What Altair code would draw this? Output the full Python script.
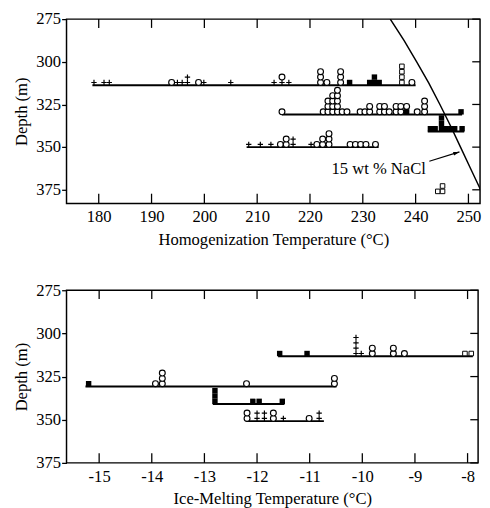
import altair as alt
import pandas as pd

FONT = "Liberation Serif"

# ---------------- data: top panel (homogenization temperature) ----------------
top_x_ticks = [180, 190, 200, 210, 220, 230, 240, 250]
depth_ticks = [275, 300, 325, 350, 375]

# baselines of the depth groups
top_line_depth = [313.7, 330.9, 340.8, 350.0]
top_line_start = [178.8, 214.7, 242.3, 208.0]
top_line_end = [240.0, 248.8, 249.2, 233.0]

# symbol columns (stack bottom->top): o circle, + plus, s filled square, q open square
top_A_depth = 313.7
top_A_temp = [179.1, 181.0, 182.0, 193.8, 194.9, 195.8, 196.8, 198.9, 199.9, 205.0,
              213.2, 214.7, 216.0, 222.0, 223.2, 225.8, 227.5, 231.3, 232.2, 233.1,
              237.4, 239.3]
top_A_stack = ["+", "+", "+", "o", "+", "+", "++", "o", "+", "+",
               "+", "+o", "+", "ooo", "o", "ooo", "s", "s", "ss", "s",
               "qqqq", "o"]

top_B_depth = 330.9
top_B_temp = [214.7, 222.5, 223.4, 224.3, 225.2, 226.1, 227.0, 229.5, 230.4, 231.3,
              233.2, 234.1, 235.0, 236.3, 237.2, 238.3, 240.3, 241.7, 248.6]
top_B_stack = ["o", "o", "ooo", "oooo", "ooooo", "o", "o", "o", "o", "oo",
               "oo", "oo", "o", "oo", "oo", "so", "o", "ooo", "s"]

top_C_depth = 340.8
top_C_temp = [242.8, 243.7, 244.9, 245.8, 246.7, 247.4, 248.8]
top_C_stack = ["s", "s", "sss", "s", "s", "s", "s"]

top_D_depth = 350.0
top_D_temp = [208.4, 210.6, 212.6, 214.4, 215.5, 216.8, 220.2, 221.3, 222.4, 223.6,
              227.6, 228.6, 229.6, 230.6, 232.4]
top_D_stack = ["+", "+", "+", "o", "oo", "++", "+", "o", "oo", "ooo",
               "o", "o", "o", "o", "o"]

top_E_depth = 377.5
top_E_temp = [244.2, 245.1]
top_E_stack = ["q", "qq"]

# 15 wt % NaCl boiling curve
nacl_temp = [235.2, 237.8, 240.2, 242.5, 244.6, 246.6, 248.5, 250.4, 252.3, 254.1]
nacl_depth = [275, 287.5, 300, 312.5, 325, 337.5, 350, 362.5, 375, 387.5]
nacl_label = "15 wt % NaCl"
nacl_label_temp = 233.0
nacl_label_depth = 363.0
arrow_from = (242.6, 358.3)
arrow_to = (248.3, 352.8)

# ---------------- data: bottom panel (ice-melting temperature) ----------------
bot_x_ticks = [-15, -14, -13, -12, -11, -10, -9, -8]

bot_line_depth = [313.2, 330.7, 340.9, 350.8]
bot_line_start = [-11.6, -15.26, -12.84, -12.2]
bot_line_end = [-7.9, -10.49, -11.48, -10.73]

bot_P_depth = 313.2
bot_P_temp = [-11.57, -11.05, -10.12, -10.02, -9.81, -9.41, -9.2, -8.05, -7.93]
bot_P_stack = ["s", "s", "++++", "+", "oo", "oo", "o", "q", "q"]

bot_Q_depth = 330.7
bot_Q_temp = [-15.2, -13.93, -13.8, -12.2, -10.53]
bot_Q_stack = ["s", "o", "ooo", "o", "oo"]

bot_R_depth = 340.9
bot_R_temp = [-12.8, -12.08, -11.96, -11.52]
bot_R_stack = ["sss", "s", "s", "s"]

bot_S_depth = 350.8
bot_S_temp = [-12.19, -12.0, -11.86, -11.69, -11.5, -11.01, -10.82]
bot_S_stack = ["oo", "++", "++", "oo", "+", "o", "++"]


def build_symbols(groups):
    recs = []
    for depth, temps, stacks in groups:
        for t, st in zip(temps, stacks):
            for lvl, ch in enumerate(st):
                recs.append({"t": t, "base": depth, "level": lvl, "sym": ch})
    return pd.DataFrame(recs)


def panel(sym_df, line_df, xdom, ydom, xticks, W, H, xtitle, step, extra_fn=None):
    xs = alt.Scale(domain=xdom, nice=False, zero=False)
    ys = alt.Scale(domain=ydom, nice=False, zero=False, reverse=True)
    xaxis = alt.Axis(values=xticks, ticks=False, labelPadding=6, title=xtitle,
                     titlePadding=7, labelExpr="'' + datum.value")
    yaxis = alt.Axis(values=depth_ticks, tickSize=5, tickWidth=1.3, tickColor="black",
                     labelPadding=1, title="Depth (m)", titlePadding=6)

    def X(f):
        return alt.X(f, type="quantitative", scale=xs, axis=xaxis, title=xtitle)

    def Y(f):
        return alt.Y(f, type="quantitative", scale=ys, axis=yaxis, title="Depth (m)")

    xt = pd.DataFrame({"v": xticks})
    yt = pd.DataFrame({"v": depth_ticks})

    bottom_ticks = alt.Chart(xt).mark_rule(color="black", strokeWidth=1.3).encode(
        x=X("v"), y=alt.value(H), y2=alt.value(H - 10))
    top_ticks = alt.Chart(xt).mark_rule(color="black", strokeWidth=1.3).encode(
        x=X("v"), y=alt.value(0), y2=alt.value(9))
    right_ticks = alt.Chart(yt).mark_rule(color="black", strokeWidth=1.3).encode(
        y=Y("v"), x=alt.value(W), x2=alt.value(W - 8))

    lines = alt.Chart(line_df).mark_rule(color="black", strokeWidth=2).encode(
        x=X("x0"), x2="x1", y=Y("d"))

    base = alt.Chart(sym_df).transform_calculate(
        d=f"datum.base - (datum.level + 0.5) * {step}")
    circles = base.transform_filter("datum.sym == 'o'").mark_point(
        shape="circle", size=36, filled=True, fill="white", stroke="black",
        strokeWidth=1.15, opacity=1).encode(x=X("t"), y=Y("d"))
    pluses = base.transform_filter("datum.sym == '+'").mark_point(
        shape="M-1,0H1M0,-1V1", size=30, filled=False, stroke="black",
        strokeWidth=1.2, opacity=1).encode(x=X("t"), y=Y("d"))
    fsq = base.transform_filter("datum.sym == 's'").mark_point(
        shape="square", size=31, filled=True, color="black", opacity=1).encode(
        x=X("t"), y=Y("d"))
    osq = base.transform_filter("datum.sym == 'q'").mark_point(
        shape="square", size=22, filled=True, fill="white", stroke="black",
        strokeWidth=1.0, opacity=1).encode(x=X("t"), y=Y("d"))

    layers = [bottom_ticks, top_ticks, right_ticks, lines]
    if extra_fn is not None:
        layers += extra_fn(X, Y)
    layers += [circles, pluses, fsq, osq]
    return alt.layer(*layers).properties(width=W, height=H)


def nacl_layers(X, Y):
    curve_df = pd.DataFrame({"t": nacl_temp, "d": nacl_depth})
    curve = alt.Chart(curve_df).mark_line(color="black", strokeWidth=1.5, clip=True).encode(
        x=X("t"), y=Y("d"), order="d")
    lab = alt.Chart(pd.DataFrame({"t": [nacl_label_temp], "d": [nacl_label_depth],
                                  "s": [nacl_label]})).mark_text(
        font=FONT, fontSize=17, color="black", baseline="middle", align="center").encode(
        x=X("t"), y=Y("d"), text="s")
    arr = pd.DataFrame({"t0": [arrow_from[0]], "d0": [arrow_from[1]],
                        "t1": [arrow_to[0]], "d1": [arrow_to[1]]})
    shaft = alt.Chart(arr).mark_rule(color="black", strokeWidth=1.2).encode(
        x=X("t0"), y=Y("d0"), x2="t1", y2="d1")
    head = alt.Chart(arr).mark_point(shape="M0,0L0.6,2L-0.6,2Z", size=40, filled=True,
                                     color="black", opacity=1, angle=73).encode(
        x=X("t1"), y=Y("d1"))
    return [curve, shaft, head, lab]


top_sym = build_symbols([
    (top_A_depth, top_A_temp, top_A_stack),
    (top_B_depth, top_B_temp, top_B_stack),
    (top_C_depth, top_C_temp, top_C_stack),
    (top_D_depth, top_D_temp, top_D_stack),
    (top_E_depth, top_E_temp, top_E_stack),
])
top_lines = pd.DataFrame({"d": top_line_depth, "x0": top_line_start, "x1": top_line_end})

bot_sym = build_symbols([
    (bot_P_depth, bot_P_temp, bot_P_stack),
    (bot_Q_depth, bot_Q_temp, bot_Q_stack),
    (bot_R_depth, bot_R_temp, bot_R_stack),
    (bot_S_depth, bot_S_temp, bot_S_stack),
])
bot_lines = pd.DataFrame({"d": bot_line_depth, "x0": bot_line_start, "x1": bot_line_end})

top = panel(top_sym, top_lines, [173.9, 252.2], [275, 383], top_x_ticks, 424, 189,
            "Homogenization Temperature (°C)", 3.15, nacl_layers)
bot = panel(bot_sym, bot_lines, [-15.62, -7.8], [275, 375], bot_x_ticks, 422, 177,
            "Ice-Melting Temperature (°C)", 3.1)

chart = alt.vconcat(top, bot, spacing=33).properties(
    padding={"left": 3, "right": 0, "top": -5, "bottom": 0}
).configure_view(
    stroke="black", strokeWidth=1.5
).configure_axis(
    grid=False, domain=False,
    labelFont=FONT, titleFont=FONT, labelFontSize=17, titleFontSize=17,
    titleFontWeight="normal", labelColor="black", titleColor="black",
)

chart.save("out.html", embed_options={"renderer": "svg", "actions": False})
